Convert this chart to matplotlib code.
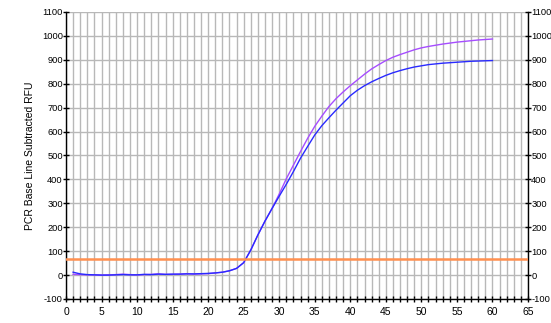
import numpy as np
import matplotlib.pyplot as plt
from matplotlib.ticker import MultipleLocator

plt.rcParams['font.family'] = ['Liberation Sans', 'DejaVu Sans']
plt.rcParams['axes.unicode_minus'] = False

cycles = list(range(1, 61))

# well 1 (purple)
rfu_a = [3, 2, 1, 1, 0, 1, 2, 4, 2, 1, 2, 3, 5, 3, 3, 4, 6, 4, 5, 6,
         9, 12, 18, 28, 52, 105, 168, 226, 279, 339, 403, 460, 517, 572, 622,
         665, 705, 738, 766, 792, 816, 840, 862, 880, 897, 911, 922, 932, 942, 950,
         956, 961, 966, 970, 974, 977, 980, 983, 985, 987]

# well 2 (blue)
rfu_b = [12, 5, 2, 1, 0, 0, 1, 2, 1, 1, 3, 2, 4, 3, 4, 4, 5, 5, 6, 7,
         9, 12, 18, 28, 52, 105, 168, 226, 279, 330, 380, 433, 489, 538, 586,
         625, 658, 690, 720, 750, 773, 792, 808, 822, 835, 846, 855, 863, 870, 875,
         880, 883, 886, 888, 890, 892, 894, 895, 896, 897]

threshold = 67

fig = plt.figure(figsize=(5.51, 3.23), dpi=100)
ax = fig.add_axes([66/551, 24/323, 462/551, 287/323])

ax.plot(cycles, rfu_a, color='#a64dff', lw=1.0, zorder=3)
ax.plot(cycles, rfu_b, color='#2a2aff', lw=1.0, zorder=4)
ax.axhline(threshold, color='#ff9050', lw=1.8, zorder=5)

ax.set_xlim(0, 65)
ax.set_ylim(-100, 1100)
ax.xaxis.set_major_locator(MultipleLocator(5))
ax.xaxis.set_minor_locator(MultipleLocator(1))
ax.yaxis.set_major_locator(MultipleLocator(100))

ax.grid(which='both', axis='x', color='#b8b8b8', lw=1.0, zorder=0)
ax.grid(which='major', axis='y', color='#b8b8b8', lw=1.0, zorder=0)

ax.spines['top'].set_visible(False)
for s in ['left', 'right', 'bottom']:
    ax.spines[s].set_color('black')
    ax.spines[s].set_linewidth(1.0)

ax.tick_params(which='both', direction='inout', length=4, width=1, labelsize=6.7,
               right=True, labelright=True, top=False, pad=0.3)
ax.tick_params(axis='x', labelsize=7.5, pad=4)

ax.set_ylabel('PCR Base Line Subtracted RFU', fontsize=7.5, labelpad=5)

fig.savefig('out.png', dpi=100)
